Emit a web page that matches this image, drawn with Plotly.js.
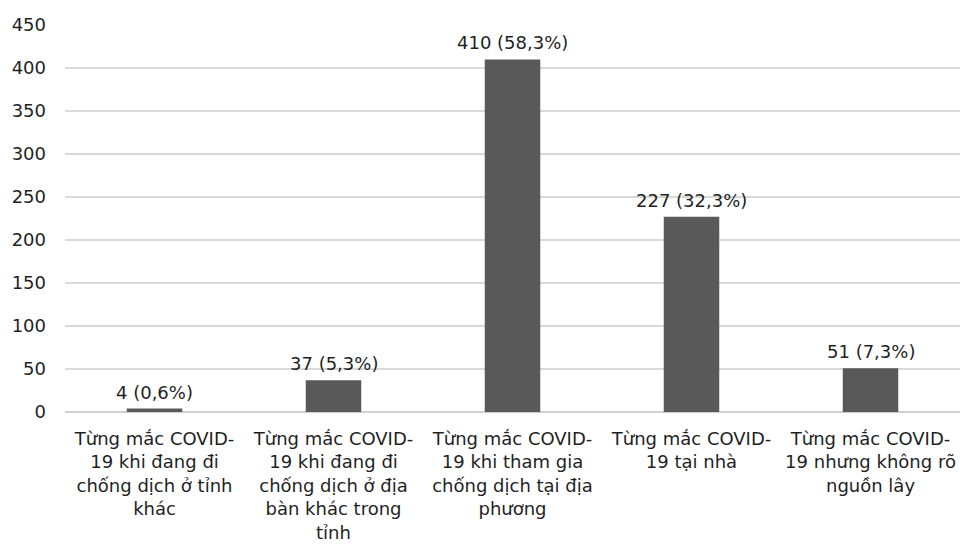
<!DOCTYPE html>
<html>
<head>
<meta charset="utf-8">
<script src="https://cdn.plot.ly/plotly-3.0.1.min.js"></script>
<style>html,body{margin:0;padding:0;background:#fff;}#chart{width:965px;height:544px;}</style>
</head>
<body>
<div id="chart"></div>
<script>
const categories = [
  "Từng mắc COVID-<br>19 khi đang đi<br>chống dịch ở tỉnh<br>khác",
  "Từng mắc COVID-<br>19 khi đang đi<br>chống dịch ở địa<br>bàn khác trong<br>tỉnh",
  "Từng mắc COVID-<br>19 khi tham gia<br>chống dịch tại địa<br>phương",
  "Từng mắc COVID-<br>19 tại nhà",
  "Từng mắc COVID-<br>19 nhưng không rõ<br>nguồn lây"
];
const counts = [4, 37, 410, 227, 51];
const percentLabels = ["0,6%", "5,3%", "58,3%", "32,3%", "7,3%"];
const yTicks = [0, 50, 100, 150, 200, 250, 300, 350, 400, 450];

const FONT = "'DejaVu Sans', 'Liberation Sans', Arial, sans-serif";
const TEXT_COLOR = "#1f1f1f";

const annotations = categories.map((c, i) => ({
  x: c, y: counts[i], xref: "x", yref: "y",
  text: counts[i] + " (" + percentLabels[i] + ")",
  showarrow: false, yanchor: "bottom", yshift: 4,
  font: {family: FONT, size: 18, color: TEXT_COLOR}
}));

const data = [{
  type: "bar",
  x: categories,
  y: counts,
  marker: {color: "#595959"},
  hoverinfo: "skip"
}];

const layout = {
  width: 965, height: 544,
  margin: {l: 65, r: 5, t: 25, b: 132},
  paper_bgcolor: "#ffffff", plot_bgcolor: "#ffffff",
  bargap: 0.69,
  showlegend: false,
  font: {family: FONT, size: 18, color: TEXT_COLOR},
  xaxis: {
    type: "category",
    showgrid: false, zeroline: false, showline: false,
    ticks: "", ticklabelstandoff: 14,
    tickfont: {family: FONT, size: 18, color: TEXT_COLOR},
    tickangle: 0
  },
  yaxis: {
    range: [0, 450],
    tickvals: yTicks,
    showgrid: true, gridcolor: "#d9d9d9", gridwidth: 1.5,
    zeroline: true, zerolinecolor: "#d0d0d0", zerolinewidth: 1.5,
    showline: false, ticks: "", ticklabelstandoff: 18,
    tickfont: {family: FONT, size: 18, color: TEXT_COLOR}
  },
  annotations: annotations
};

Plotly.newPlot("chart", data, layout, {staticPlot: true, displayModeBar: false});
</script>
</body>
</html>
